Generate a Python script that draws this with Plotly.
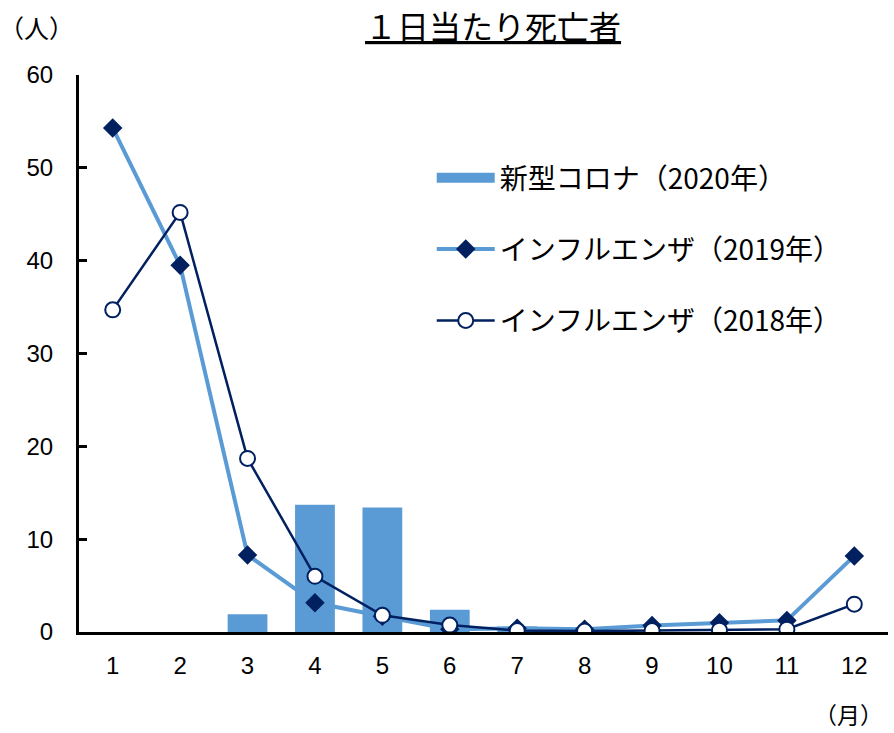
import plotly.graph_objects as go

months = [1, 2, 3, 4, 5, 6, 7, 8, 9, 10, 11, 12]
month_labels = [str(m) for m in months]

covid_2020 = [0, 0, 1.9, 13.7, 13.4, 2.4, 0.6, None, None, None, None, None]
flu_2019 = [54.3, 39.5, 8.3, 3.15, 1.7, 0.3, 0.4, 0.3, 0.7, 1.0, 1.25, 8.2]
flu_2018 = [34.7, 45.2, 18.7, 6.0, 1.8, 0.75, 0.15, 0.1, 0.15, 0.2, 0.3, 3.0]

y_ticks = [0, 10, 20, 30, 40, 50, 60]

LIGHT = "#5B9BD5"
NAVY = "#002060"
JP_FONT = "Noto Sans CJK JP, sans-serif"
NUM_FONT = "Liberation Sans, Arial, sans-serif"

fig = go.Figure()

fig.add_trace(go.Bar(
    x=month_labels, y=covid_2020,
    name="新型コロナ（2020年）",
    marker=dict(color=LIGHT, line=dict(width=0)),
    showlegend=False,
))
# wide rectangular legend key for the bar series
fig.add_trace(go.Scatter(
    x=[None], y=[None],
    name="新型コロナ（2020年）",
    mode="lines",
    line=dict(color=LIGHT, width=14),
    legendgroup="a",
))
fig.add_trace(go.Scatter(
    x=month_labels, y=flu_2019,
    name="インフルエンザ（2019年）",
    mode="lines+markers",
    line=dict(color=LIGHT, width=4),
    marker=dict(symbol="diamond", size=15, color=NAVY, line=dict(width=0)),
    legendgroup="b",
))
fig.add_trace(go.Scatter(
    x=month_labels, y=flu_2018,
    name="インフルエンザ（2018年）",
    mode="lines+markers",
    line=dict(color=NAVY, width=2.5),
    marker=dict(symbol="circle", size=15, color="white", line=dict(color=NAVY, width=2)),
    legendgroup="c",
))

fig.update_layout(
    width=894, height=733,
    margin=dict(l=79, r=6, t=75, b=101),
    plot_bgcolor="white", paper_bgcolor="white",
    bargap=0.41,
    showlegend=True,
    legend=dict(
        x=0.436, y=0.86, xanchor="left", yanchor="top",
        font=dict(family=JP_FONT, size=28, color="black"),
        tracegroupgap=32,
        itemwidth=58,
        bgcolor="rgba(0,0,0,0)",
    ),
    xaxis=dict(
        type="category", range=[-0.5, 11.5],
        showline=True, linecolor="black", linewidth=3,
        ticks="", showgrid=False,
        tickfont=dict(family=NUM_FONT, size=24, color="black"),
        ticklabelstandoff=10,
    ),
    yaxis=dict(
        range=[0, 60], tickvals=y_ticks,
        showline=True, linecolor="black", linewidth=3,
        ticks="inside", ticklen=8, tickwidth=3, tickcolor="black",
        showgrid=False, zeroline=False,
        tickfont=dict(family=NUM_FONT, size=24, color="black"),
        ticklabelstandoff=18,
    ),
    annotations=[
        dict(text="<u>１日当たり死亡者</u>", xref="paper", yref="paper",
             x=0.512, y=1, yshift=50, xanchor="center", yanchor="middle",
             showarrow=False, font=dict(family=JP_FONT, size=32, color="black")),
        dict(text="（人）", xref="paper", yref="paper", x=0, xshift=-82,
             y=1, yshift=48, xanchor="left", yanchor="middle",
             showarrow=False, font=dict(family=JP_FONT, size=25, color="black")),
        dict(text="（月）", xref="paper", yref="paper", x=1, xshift=-3,
             y=0, yshift=-82, xanchor="right", yanchor="middle",
             showarrow=False, font=dict(family=JP_FONT, size=23, color="black")),
    ],
)

fig.write_html("out.html")
